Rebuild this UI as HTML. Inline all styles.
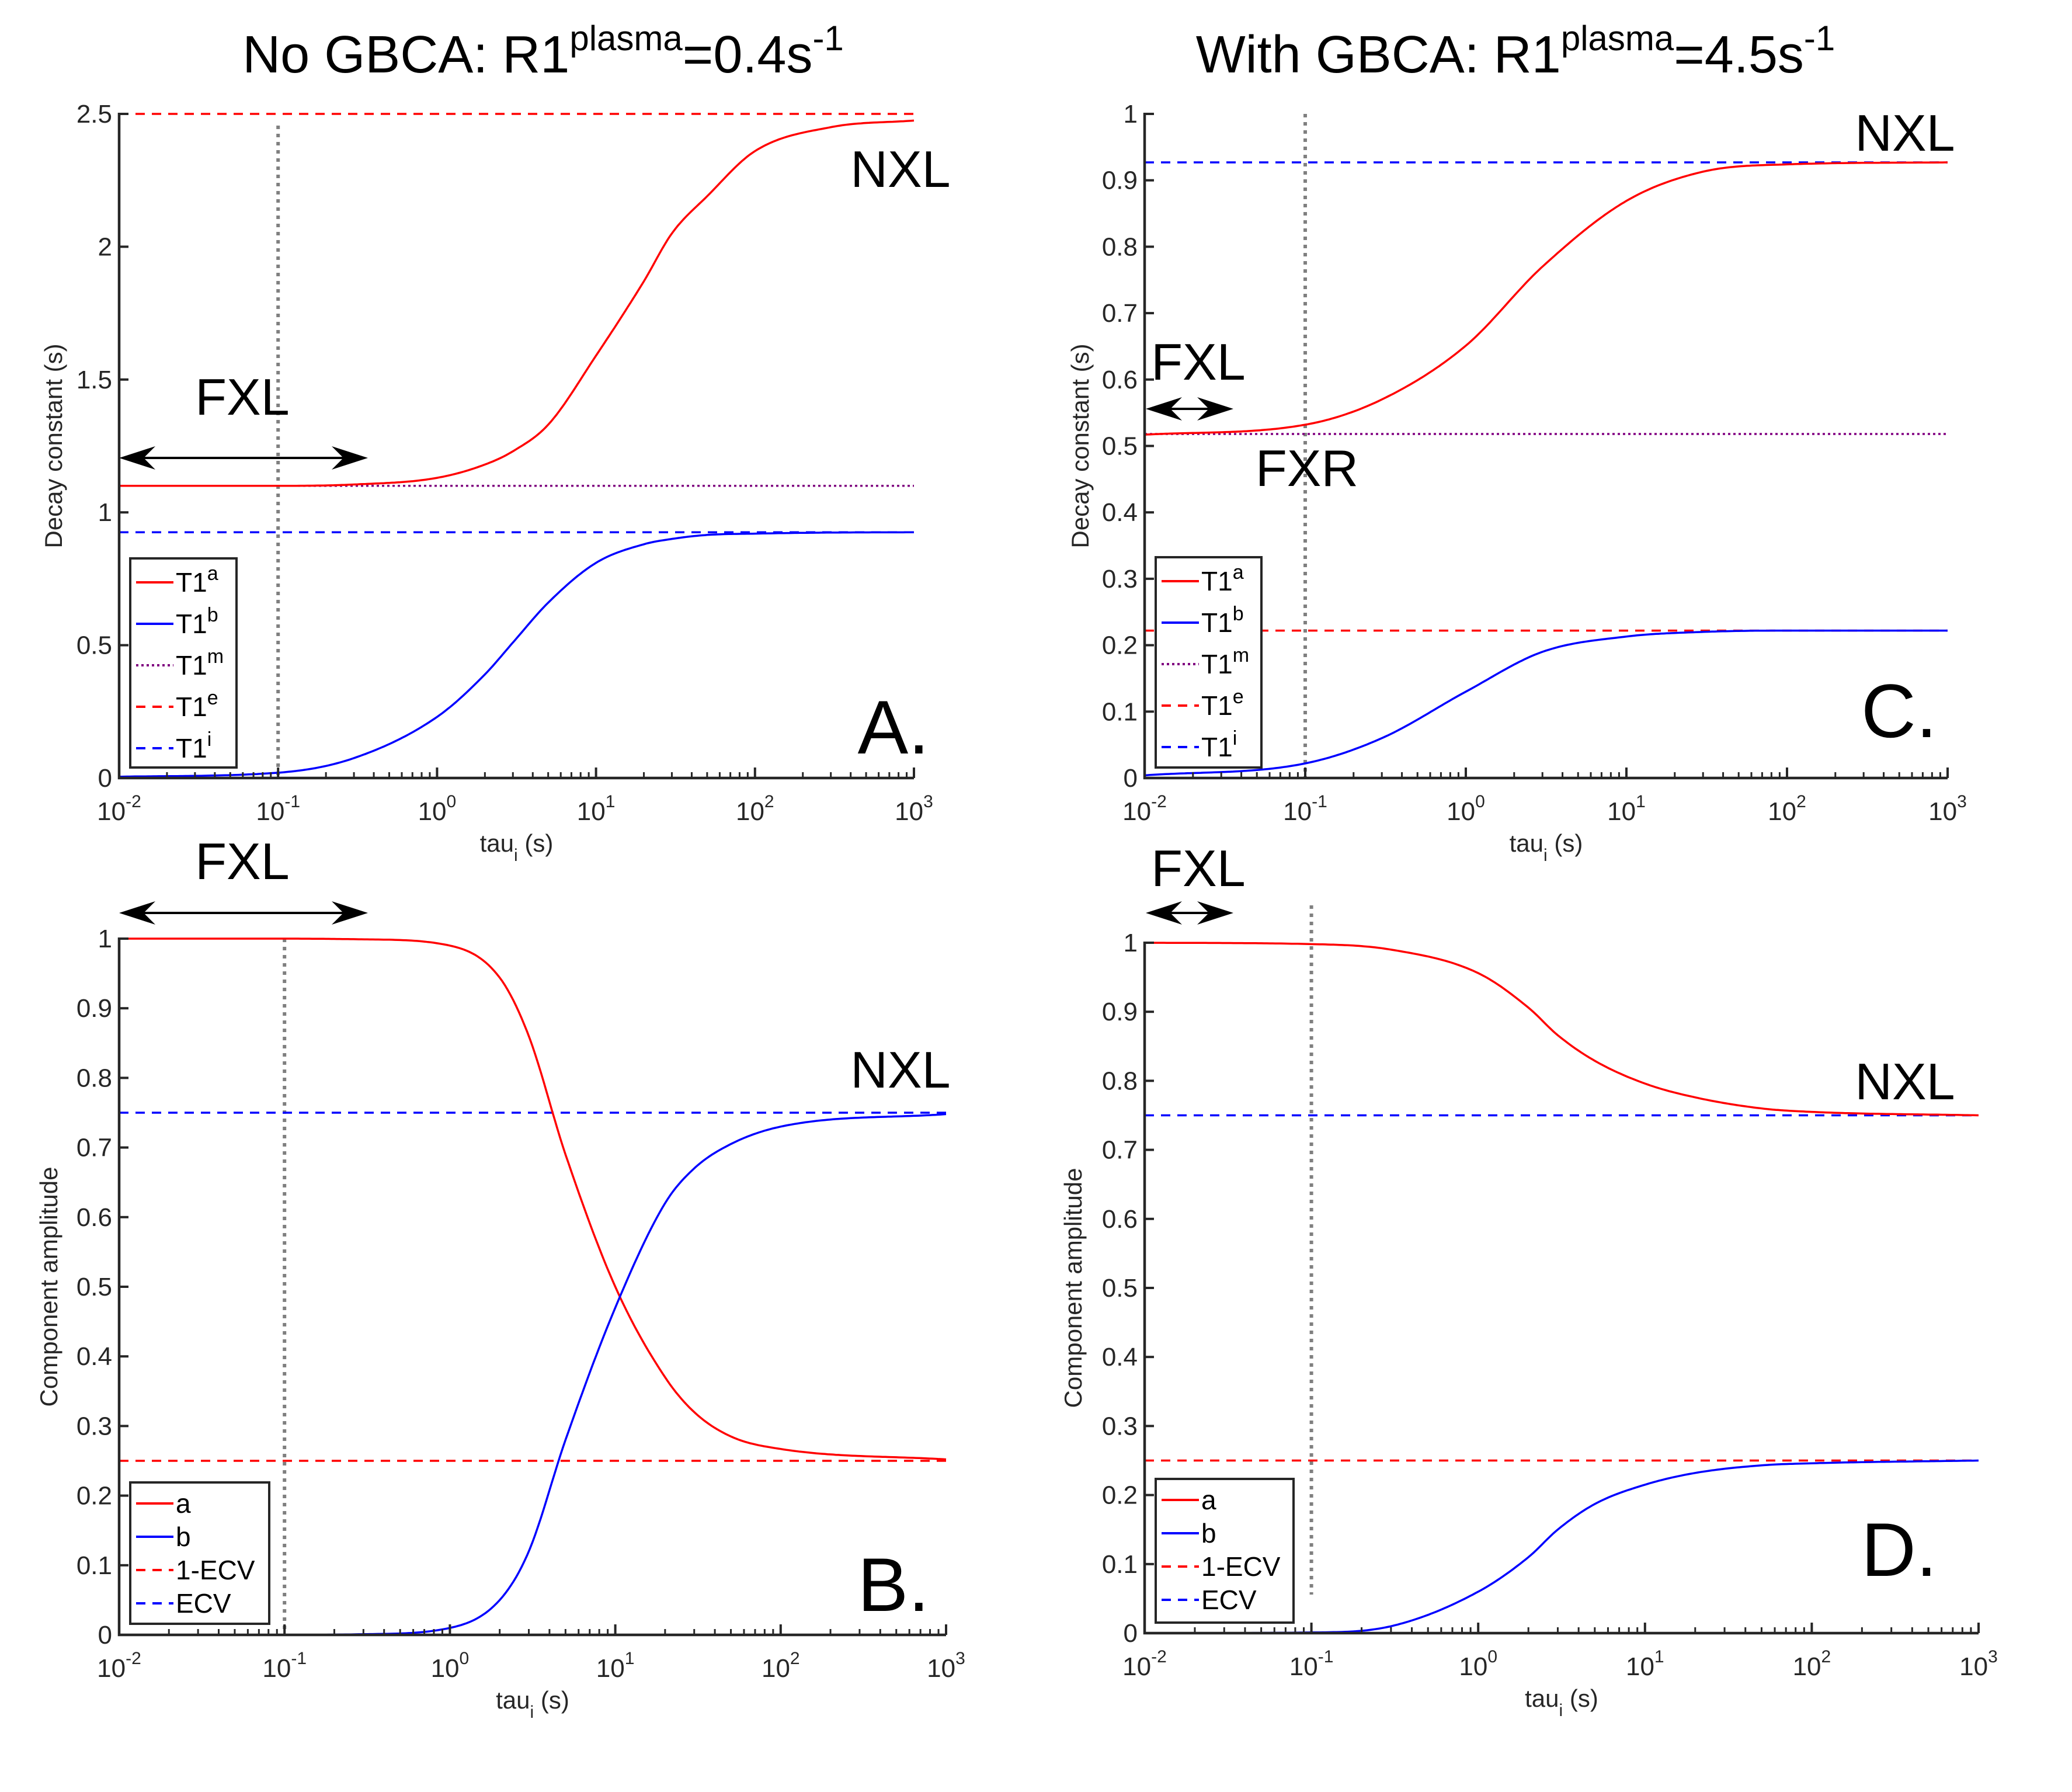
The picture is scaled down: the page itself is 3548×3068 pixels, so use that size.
<!DOCTYPE html>
<html><head><meta charset="utf-8"><style>
html,body{margin:0;padding:0;background:#fff;}
svg{display:block;font-family:"Liberation Sans",Arial,sans-serif;}
</style></head><body>
<svg id="fig" xmlns="http://www.w3.org/2000/svg" width="3548" height="3068" viewBox="0 0 3548 3068">
<rect width="3548" height="3068" fill="#fff"/>
<text x="930" y="124" font-size="90" text-anchor="middle">No GBCA: R1<tspan font-size="60" dy="-38">plasma</tspan><tspan dy="38">=0.4s</tspan><tspan font-size="60" dy="-38">-1</tspan></text>
<text x="2595" y="124" font-size="90" text-anchor="middle">With GBCA: R1<tspan font-size="60" dy="-38">plasma</tspan><tspan dy="38">=4.5s</tspan><tspan font-size="60" dy="-38">-1</tspan></text>
</svg>
<script>
// ---- data (tau in seconds) ----
const tauA = [0.01,0.1,0.3,1,2,3,5,10,20,30,50,100,300,1000];
const A_T1a = [1.10,1.10,1.105,1.13,1.18,1.23,1.33,1.59,1.87,2.05,2.19,2.36,2.45,2.475];
const A_T1b = [0.005,0.02,0.075,0.23,0.39,0.51,0.66,0.81,0.88,0.9,0.915,0.92,0.924,0.925];
const A_T1m = 1.1, A_T1e = 2.5, A_T1i = 0.925;
const tauC = [0.01,0.1,0.3,1,3,10,30,100,1000];
const C_T1a = [0.517,0.532,0.57,0.651,0.77,0.869,0.913,0.924,0.927];
const C_T1b = [0.004,0.022,0.06,0.13,0.19,0.213,0.22,0.222,0.222];
const C_T1m = 0.518, C_T1e = 0.222, C_T1i = 0.927;
const tauB = [0.01,0.1,0.3,1,2,3,5,10,20,30,50,100,1000];
const B_a = [1,1,0.999,0.99,0.944,0.86,0.69,0.50,0.37,0.32,0.285,0.267,0.252];
const B_b = [0,0,0.001,0.01,0.05,0.12,0.28,0.47,0.62,0.67,0.705,0.73,0.748];
const B_ecv1 = 0.25, B_ecv = 0.75;
const tauD = [0.01,0.1,0.3,1,2,3,5,10,20,50,100,1000];
const D_a = [1,0.998,0.99,0.956,0.906,0.866,0.829,0.796,0.776,0.76,0.755,0.75];
const D_b = [0,0.001,0.01,0.06,0.11,0.15,0.187,0.215,0.232,0.243,0.246,0.25];
const D_ecv1 = 0.25, D_ecv = 0.75;
const xTickExp = [-2,-1,0,1,2,3];

const NS="http://www.w3.org/2000/svg";
const svg=document.getElementById('fig');
function mk(tag,attrs,parent){const e=document.createElementNS(NS,tag);for(const k in attrs)e.setAttribute(k,attrs[k]);(parent||svg).appendChild(e);return e;}

// monotone cubic interpolation in log10(x)
function monotone(xs,ys){
  const n=xs.length,d=[],m=new Array(n);
  for(let i=0;i<n-1;i++)d.push((ys[i+1]-ys[i])/(xs[i+1]-xs[i]));
  m[0]=d[0];m[n-1]=d[n-2];
  for(let i=1;i<n-1;i++){m[i]=(d[i-1]*d[i]<=0)?0:(d[i-1]+d[i])/2;}
  for(let i=0;i<n-1;i++){
    if(d[i]===0){m[i]=0;m[i+1]=0;continue;}
    const a=m[i]/d[i],b=m[i+1]/d[i],s=a*a+b*b;
    if(s>9){const t=3/Math.sqrt(s);m[i]=t*a*d[i];m[i+1]=t*b*d[i];}
  }
  return x=>{
    let i=0;while(i<n-2&&x>xs[i+1])i++;
    const h=xs[i+1]-xs[i],t=(x-xs[i])/h,t2=t*t,t3=t2*t;
    return (2*t3-3*t2+1)*ys[i]+(t3-2*t2+t)*h*m[i]+(-2*t3+3*t2)*ys[i+1]+(t3-t2)*h*m[i+1];
  };
}

function panel(P){
  const g=mk('g',{});
  
  
  const sx=t=>P.x0+(Math.log10(t)+2)/5*(P.x1-P.x0);
  const sy=v=>P.y0-(v/P.ymax)*(P.y0-P.y1);
  const vl=mk('line',{x1:sx(0.1),x2:sx(0.1),y1:P.vTop,y2:P.vBot,stroke:'#808080','stroke-width':6,'stroke-dasharray':'6 8'},g);
  
  
  P.hlines.forEach(h=>{
    const l=mk('line',{x1:P.x0,x2:P.x1,y1:sy(h.v),y2:sy(h.v),stroke:h.c,'stroke-width':3.5,'stroke-dasharray':h.d},g);
    
    
  });
  P.curves.forEach(c=>{
    const lx=c.t.map(t=>Math.log10(t));
    const f=monotone(lx,c.v);
    let d='';
    for(let k=0;k<=300;k++){
      const L=-2+5*k/300;
      d+=(k?'L':'M')+sx(Math.pow(10,L)).toFixed(1)+','+sy(f(L)).toFixed(1);
    }
    const p=mk('path',{d:d,fill:'none',stroke:c.c,'stroke-width':3.5},g);
    
    
  });
  const ax=mk('path',{d:`M${P.x0},${P.y1-2}V${P.y0}H${P.x1}`,fill:'none',stroke:'#262626','stroke-width':4.5},g);
  
  
  P.yticks.forEach(v=>{
    mk('line',{x1:P.x0,x2:P.x0+16,y1:sy(v),y2:sy(v),stroke:'#262626','stroke-width':4},g);
    const t=mk('text',{x:P.x0-12,y:sy(v)+15,'font-size':44,'text-anchor':'end',fill:'#262626'},g);
    t.textContent=String(v);
    
    
  });
  for(let e=-2;e<=2;e++)for(let m=2;m<=9;m++){
    const x=sx(m*Math.pow(10,e));
    mk('line',{x1:x,x2:x,y1:P.y0,y2:P.y0-10,stroke:'#262626','stroke-width':3},g);
  }
  xTickExp.forEach(e=>{
    const x=sx(Math.pow(10,e));
    mk('line',{x1:x,x2:x,y1:P.y0,y2:P.y0-18,stroke:'#262626','stroke-width':4},g);
    const t=mk('text',{x:x,y:P.y0+72,'font-size':44,'text-anchor':'middle',fill:'#262626'},g);
    t.innerHTML='10<tspan font-size="30" dy="-22">'+e+'</tspan>';
    
    
  });
  const xl=mk('text',{x:(P.x0+P.x1)/2,y:P.y0+126,'font-size':42,'text-anchor':'middle',fill:'#262626'},g);
  xl.innerHTML='tau<tspan font-size="30" dy="16">i</tspan><tspan dy="-16"> (s)</tspan>';
  
  
  const yc=(P.y0+P.y1)/2;
  const yl=mk('text',{x:P.ylx,y:yc,'font-size':42,'text-anchor':'middle',fill:'#262626',transform:`rotate(-90 ${P.ylx} ${yc})`},g);
  yl.textContent=P.ylabel;
  
  
  const L=P.legend;
  const lb=mk('rect',{x:L.x,y:L.y,width:L.w,height:L.h,fill:'#fff',stroke:'#262626','stroke-width':4},g);
  
  
  L.items.forEach((it,i)=>{
    const y=L.y+L.first+i*L.step;
    const ln=mk('line',{x1:L.x+10,x2:L.x+74,y1:y,y2:y,stroke:it.c,'stroke-width':4,'stroke-dasharray':it.d},g);
    
    
    const t=mk('text',{x:L.x+78,y:y+16,'font-size':46,fill:'#000'},g);
    t.innerHTML=it.s?('T1<tspan font-size="34" dy="-20">'+it.s+'</tspan>'):it.l;
    
    
  });
  P.labels.forEach(lb=>{
    const t=mk('text',{x:lb.x,y:lb.y,'font-size':lb.f,'text-anchor':'middle',fill:'#000'},g);
    t.textContent=lb.t;
    
    
  });
  P.arrows.forEach(a=>{
    const ar=mk('g',{},g);
    
    
    mk('line',{x1:a.x1+10,x2:a.x2-10,y1:a.y,y2:a.y,stroke:'#000','stroke-width':4},ar);
    mk('path',{d:`M${a.x1},${a.y} L${a.x1+62},${a.y-20} L${a.x1+42},${a.y} L${a.x1+62},${a.y+20}Z`,fill:'#000'},ar);
    mk('path',{d:`M${a.x2},${a.y} L${a.x2-62},${a.y-20} L${a.x2-42},${a.y} L${a.x2-62},${a.y+20}Z`,fill:'#000'},ar);
  });
}
const T1items=[{c:'#f00',d:'none',s:'a'},{c:'#00f',d:'none',s:'b'},{c:'#800080',d:'4 5',s:'m'},{c:'#f00',d:'16 12',s:'e'},{c:'#00f',d:'16 12',s:'i'}];
const ABitems=[{c:'#f00',d:'none',l:'a'},{c:'#00f',d:'none',l:'b'},{c:'#f00',d:'16 12',l:'1-ECV'},{c:'#00f',d:'16 12',l:'ECV'}];

panel({name:'panel-a',x0:204,x1:1565,y0:1332,y1:195,ymax:2.5,vTop:215,vBot:1332,ylx:106,ylabel:'Decay constant (s)',
  yticks:[0,0.5,1,1.5,2,2.5],
  hlines:[{v:A_T1e,c:'#f00',d:'16 12',n:'t1e-line'},{v:A_T1i,c:'#00f',d:'16 12',n:'t1i-line'},{v:A_T1m,c:'#800080',d:'4 5',n:'t1m-line'}],
  curves:[{t:tauA,v:A_T1a,c:'#f00',n:'t1a-curve'},{t:tauA,v:A_T1b,c:'#00f',n:'t1b-curve'}],
  legend:{x:223,y:956,w:182,h:358,first:41,step:71,items:T1items},
  labels:[{x:415,y:710,f:88,t:'FXL',n:'fxl-label'},{x:1542,y:320,f:88,t:'NXL',n:'nxl-label'},{x:1530,y:1290,f:130,t:'A.',n:'panel-label'}],
  arrows:[{x1:204,x2:630,y:784}]});
panel({name:'panel-c',x0:1960,x1:3335,y0:1332,y1:195,ymax:1,vTop:195,vBot:1332,ylx:1864,ylabel:'Decay constant (s)',
  yticks:[0,0.1,0.2,0.3,0.4,0.5,0.6,0.7,0.8,0.9,1],
  hlines:[{v:C_T1e,c:'#f00',d:'16 12',n:'t1e-line'},{v:C_T1i,c:'#00f',d:'16 12',n:'t1i-line'},{v:C_T1m,c:'#800080',d:'4 5',n:'t1m-line'}],
  curves:[{t:tauC,v:C_T1a,c:'#f00',n:'t1a-curve'},{t:tauC,v:C_T1b,c:'#00f',n:'t1b-curve'}],
  legend:{x:1979,y:954,w:181,h:360,first:41,step:71,items:T1items},
  labels:[{x:2052,y:650,f:88,t:'FXL',n:'fxl-label'},{x:2238,y:832,f:88,t:'FXR',n:'fxr-label'},{x:3262,y:258,f:88,t:'NXL',n:'nxl-label'},{x:3252,y:1262,f:130,t:'C.',n:'panel-label'}],
  arrows:[{x1:1962,x2:2112,y:700}]});
panel({name:'panel-b',x0:204,x1:1620,y0:2799,y1:1607,ymax:1,vTop:1607,vBot:2799,ylx:98,ylabel:'Component amplitude',
  yticks:[0,0.1,0.2,0.3,0.4,0.5,0.6,0.7,0.8,0.9,1],
  hlines:[{v:B_ecv1,c:'#f00',d:'16 12',n:'one-minus-ecv-line'},{v:B_ecv,c:'#00f',d:'16 12',n:'ecv-line'}],
  curves:[{t:tauB,v:B_a,c:'#f00',n:'a-curve'},{t:tauB,v:B_b,c:'#00f',n:'b-curve'}],
  legend:{x:223,y:2538,w:238,h:242,first:36,step:57,items:ABitems},
  labels:[{x:415,y:1505,f:88,t:'FXL',n:'fxl-label'},{x:1542,y:1862,f:88,t:'NXL',n:'nxl-label'},{x:1530,y:2758,f:130,t:'B.',n:'panel-label'}],
  arrows:[{x1:204,x2:630,y:1563}]});
panel({name:'panel-d',x0:1960,x1:3388,y0:2796,y1:1614,ymax:1,vTop:1550,vBot:2730,ylx:1852,ylabel:'Component amplitude',
  yticks:[0,0.1,0.2,0.3,0.4,0.5,0.6,0.7,0.8,0.9,1],
  hlines:[{v:D_ecv1,c:'#f00',d:'16 12',n:'one-minus-ecv-line'},{v:D_ecv,c:'#00f',d:'16 12',n:'ecv-line'}],
  curves:[{t:tauD,v:D_a,c:'#f00',n:'a-curve'},{t:tauD,v:D_b,c:'#00f',n:'b-curve'}],
  legend:{x:1979,y:2532,w:236,h:246,first:36,step:57,items:ABitems},
  labels:[{x:2052,y:1517,f:88,t:'FXL',n:'fxl-label'},{x:3262,y:1882,f:88,t:'NXL',n:'nxl-label'},{x:3252,y:2698,f:130,t:'D.',n:'panel-label'}],
  arrows:[{x1:1962,x2:2112,y:1563}]});
</script>
</body></html>
